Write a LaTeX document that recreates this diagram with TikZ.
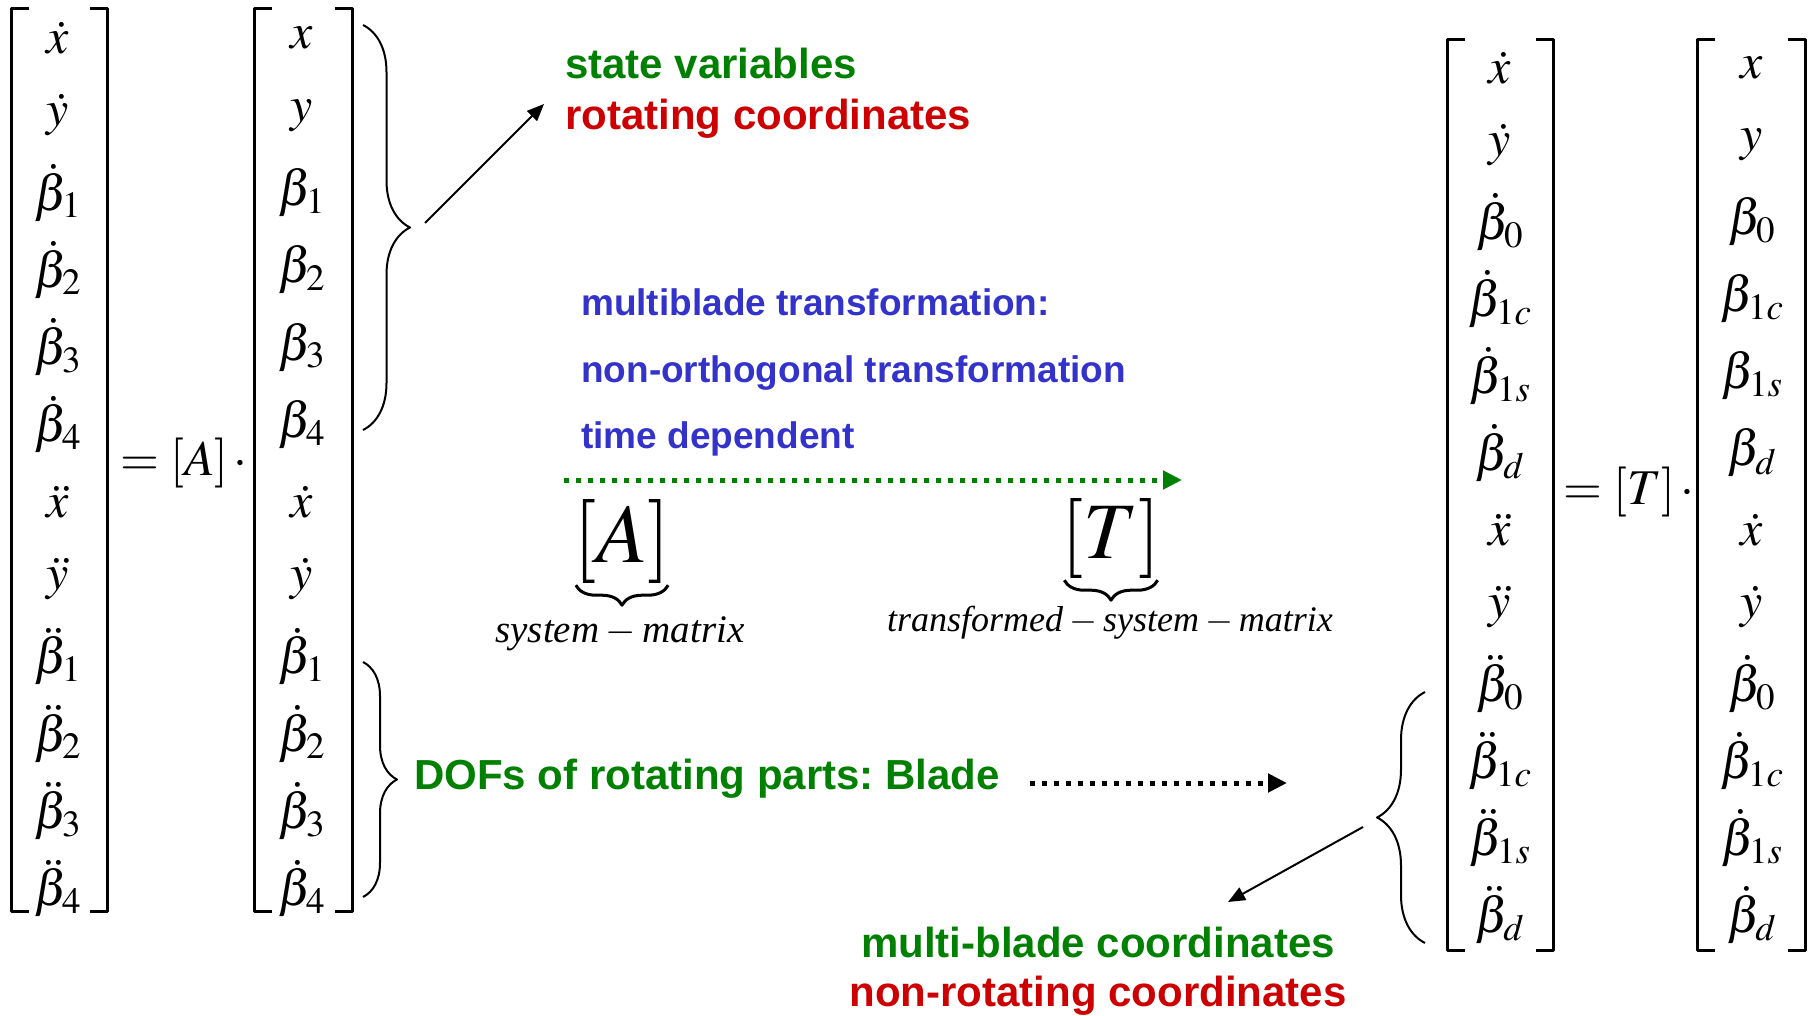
\documentclass[tikz,border=0pt]{standalone}
\usepackage{mathptmx}
\usepackage[no-math]{fontspec}
\newfontfamily\lblfont{Liberation Sans}
\newfontfamily\serfont{Liberation Serif}
\usetikzlibrary{arrows.meta,decorations.pathreplacing}
\definecolor{dgreen}{RGB}{0,128,0}
\definecolor{dred}{RGB}{204,0,0}
\definecolor{dblue}{RGB}{51,51,204}
\frenchspacing
\tikzset{
  lbl/.style={font=\lblfont\bfseries\fontsize{42}{50}\selectfont, inner sep=0pt},
  bluelbl/.style={font=\lblfont\bfseries\fontsize{37}{44}\selectfont, text=dblue, inner sep=0pt, anchor=base west},
  vecent/.style={font=\fontsize{50}{60}\selectfont, inner sep=0pt},
  vecbox/.style={inner sep=0pt, draw=none},
  bracket/.style={line width=3pt},
  cbrace/.style={line width=2pt, decorate},
  ubrace/.style={line width=3pt, decorate, decoration={brace, mirror, amplitude=20pt}},
  thinarr/.style={line width=2pt, -{Triangle[length=17pt,width=14pt]}},
  dotarr/.style={line width=5pt, dash pattern=on 5pt off 7pt, -{Triangle[length=19pt,width=18pt]}}
}
\begin{document}
\begin{tikzpicture}[x=1pt, y=-1pt, line join=round]
  \useasboundingbox (0,0) rectangle (1815,1016);
  \node[vecbox, minimum width=95pt, minimum height=902pt] (lhsA) at (59.5,460) {};
  \node[vecbox, minimum width=97pt, minimum height=902pt] (rhsA) at (303.5,460) {};
  \node[vecbox, minimum width=105pt, minimum height=910pt] (lhsT) at (1500.5,495) {};
  \node[vecbox, minimum width=107pt, minimum height=910pt] (rhsT) at (1751.5,495) {};
  \foreach \v in {lhsA,rhsA,lhsT,rhsT}
  {\draw[bracket] ([xshift=17pt]\v.north west) -| (\v.south west) -- ++(17,0);
    \draw[bracket] ([xshift=-17pt]\v.north east) -| (\v.south east) -- ++(-17,0);}
  \foreach \e [count=\i] in {\dot x,\dot y,\dot\beta_1,\dot\beta_2,\dot\beta_3,\dot\beta_4,\ddot x,\ddot y,\ddot\beta_1,\ddot\beta_2,\ddot\beta_3,\ddot\beta_4}
  \node[vecent] (la\i) at (58,{38+77.3*(\i-1)}) {$\e$};
  \foreach \e [count=\i] in {x,y,\beta_1,\beta_2,\beta_3,\beta_4,\dot x,\dot y,\dot\beta_1,\dot\beta_2,\dot\beta_3,\dot\beta_4}
  \node[vecent] (ra\i) at (302,{38+77.3*(\i-1)}) {$\e$};
  \foreach \e [count=\i] in {\dot x,\dot y,\dot\beta_0,\dot\beta_{1c},\dot\beta_{1s},\dot\beta_d,\ddot x,\ddot y,\ddot\beta_0,\ddot\beta_{1c},\ddot\beta_{1s},\ddot\beta_d}
  \node[vecent] (lt\i) at (1500,{68+77*(\i-1)}) {$\e$};
  \foreach \e [count=\i] in {x,y,\beta_0,\beta_{1c},\beta_{1s},\beta_d,\dot x,\dot y,\dot\beta_0,\dot\beta_{1c},\dot\beta_{1s},\dot\beta_d}
  \node[vecent] (rt\i) at (1752,{68+77*(\i-1)}) {$\e$};
  \node[vecent] (eqA) at (184,463) {$=\left[A\right]\cdot$};
  \node[vecent] (eqT) at (1629,492) {$=\left[T\right]\cdot$};
  \draw[cbrace, decoration={brace, amplitude=47pt, aspect=0.5}] (363,25) -- (363,430);
  \draw[cbrace, decoration={brace, amplitude=34pt, aspect=0.5}] (363,662) -- (363,897);
  \draw[cbrace, decoration={brace, amplitude=48pt, aspect=0.5}] (1425,943) -- (1425,692);
  \node[lbl, text=dgreen, anchor=base west] (statevar) at (565,79) {state variables};
  \node[lbl, text=dred, anchor=base west] (rotcoord) at (565,130) {rotating coordinates};
  \coordinate (fromS) at (425,223);
  \coordinate (toS) at (544,104);
  \draw[thinarr] (fromS) -- (toS);
  \node[bluelbl] (mbtrans) at (581,316) {multiblade transformation:};
  \node[bluelbl] (nonorth) at (581,382) {non-orthogonal transformation};
  \node[bluelbl] (timedep) at (581,448) {time dependent};
  \coordinate (trA) at (564,480);
  \coordinate (trT) at (1182,480);
  \draw[dotarr, dgreen] (trA) -- (trT);
  \node[font=\fontsize{84}{96}\selectfont, inner sep=0pt] (sysA) at (622,541) {$[A]$};
  \node[font=\fontsize{80}{92}\selectfont, inner sep=0pt] (sysT) at (1111,538) {$[T]$};
  \draw[ubrace] ([xshift=3pt,yshift=-2pt]sysA.south west) -- ([xshift=-3pt,yshift=-2pt]sysA.south east);
  \draw[ubrace] ([xshift=3pt,yshift=-2pt]sysT.south west) -- ([xshift=-3pt,yshift=-2pt]sysT.south east);
  \node[font=\serfont\itshape\fontsize{39}{46}\selectfont, inner sep=0pt] (sysAlbl) at (620,634) {system\,$-$\,matrix};
  \node[font=\serfont\itshape\fontsize{36}{43}\selectfont, inner sep=0pt] (sysTlbl) at (1110,623) {transformed\,$-$\,system\,$-$\,matrix};
  \node[lbl, text=dgreen, anchor=base west] (dofs) at (414,789) {DOFs of rotating parts: Blade};
  \coordinate (bladeA) at (1030,783);
  \coordinate (bladeT) at (1287,783);
  \draw[dotarr] (bladeA) -- (bladeT);
  \coordinate (fromM) at (1363,827);
  \coordinate (toM) at (1228,902);
  \draw[thinarr] (fromM) -- (toM);
  \node[lbl, text=dgreen, anchor=base] (mbcoord) at (1098,957) {multi-blade coordinates};
  \node[lbl, text=dred, anchor=base] (nrcoord) at (1098,1006) {non-rotating coordinates};
\end{tikzpicture}
\end{document}
